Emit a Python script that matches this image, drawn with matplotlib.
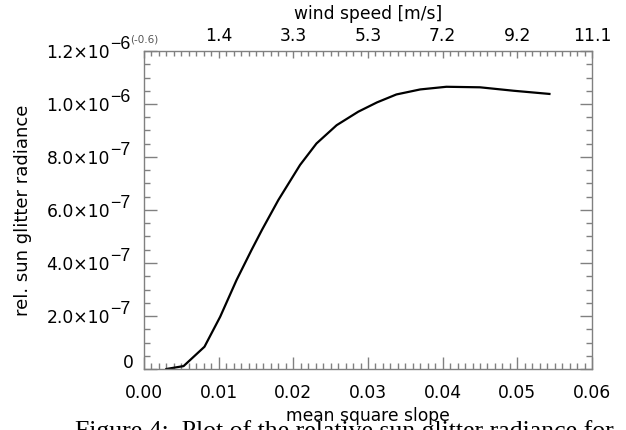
import matplotlib
matplotlib.use("Agg")
import matplotlib.pyplot as plt
from matplotlib.ticker import MultipleLocator, FixedLocator

plt.rcParams['font.family'] = ['DejaVu Sans']

# data
mss = [0.0030, 0.0053, 0.0081, 0.0102, 0.0124, 0.0144, 0.0158, 0.0180, 0.0209,
       0.0231, 0.0258, 0.0287, 0.0312, 0.0338, 0.0370, 0.0405, 0.0450, 0.0495, 0.0543]
radiance = [0.0, 1.1e-8, 8.4e-8, 1.97e-7, 3.36e-7, 4.49e-7, 5.25e-7, 6.38e-7, 7.70e-7,
            8.51e-7, 9.20e-7, 9.71e-7, 1.006e-6, 1.036e-6, 1.055e-6, 1.065e-6, 1.063e-6,
            1.050e-6, 1.038e-6]

x_ticks = [0.00, 0.01, 0.02, 0.03, 0.04, 0.05, 0.06]
x_ticklabels = ['0.00', '0.01', '0.02', '0.03', '0.04', '0.05', '0.06']
wind_labels = ['', '1.4', '3.3', '5.3', '7.2', '9.2', '11.1']
y_ticks = [0, 2e-7, 4e-7, 6e-7, 8e-7, 1.0e-6, 1.2e-6]
y_mantissa = ['', '2.0×10', '4.0×10', '6.0×10', '8.0×10', '1.0×10', '1.2×10']
y_exponent = ['', '−7', '−7', '−7', '−7', '−6', '−6']

fs = 12.3
fig = plt.figure(figsize=(6.26, 4.30), dpi=100)
ax = fig.add_axes([144/626, 61/430, 448/626, 318/430])
ax.plot(mss, radiance, color='black', lw=1.6)
ax.set_xlim(0, 0.06)
ax.set_ylim(0, 1.2e-6)

gray = '#808080'
for s in ax.spines.values():
    s.set_color(gray)
    s.set_linewidth(1.0)

ax.xaxis.set_major_locator(FixedLocator(x_ticks))
ax.set_xticklabels(x_ticklabels)
ax.xaxis.set_minor_locator(MultipleLocator(0.001))
ax.yaxis.set_major_locator(FixedLocator(y_ticks))
ax.set_yticklabels(y_mantissa)
ax.yaxis.set_minor_locator(MultipleLocator(0.5e-7))
ax.tick_params(which='major', direction='in', length=9, color=gray, width=1,
               labelsize=fs, right=True)
ax.tick_params(which='minor', direction='in', length=4, color=gray, width=1, right=True)
ax.tick_params(axis='x', which='both', top=False)
ax.tick_params(axis='x', which='major', pad=10.5)
ax.tick_params(axis='y', which='major', pad=24.5)
# exponents, drawn full-size like the reference
for yv, ex in zip(y_ticks, y_exponent):
    if ex:
        ax.annotate(ex, xy=(0, yv), xycoords=ax.get_yaxis_transform(),
                    xytext=(-10, 5), textcoords='offset points', family=['Liberation Sans'],
                    ha='right', va='center', fontsize=fs + 0.5, annotation_clip=False)
# the zero label sits in the exponent column, as in the reference
ax.annotate('0', xy=(0, y_ticks[0]), xycoords=ax.get_yaxis_transform(),
            xytext=(-7.5, 4.5), textcoords='offset points',
            ha='right', va='center', fontsize=fs, annotation_clip=False)

ax.set_xlabel('mean square slope', fontsize=fs, labelpad=4)
ax.set_ylabel('rel. sun glitter radiance', fontsize=13, labelpad=10)

# top axis: wind speed
tax = ax.twiny()
tax.set_xlim(ax.get_xlim())
tax.xaxis.set_major_locator(FixedLocator(x_ticks))
tax.set_xticklabels(wind_labels)
tax.xaxis.set_minor_locator(MultipleLocator(0.001))
tax.tick_params(which='major', direction='in', length=5, color=gray, width=1,
                labelsize=fs, pad=4)
tax.tick_params(which='minor', direction='in', length=3.5, color=gray, width=1)
for s in tax.spines.values():
    s.set_visible(False)
tax.set_xlabel('wind speed [m/s]', fontsize=fs, labelpad=6)
tax.text(0.0, 1.02, '(-0.6)', transform=tax.transAxes, fontsize=7.5, color='#555555',
         ha='center', va='bottom')

fig.text(75/626, -8/430, 'Figure 4:  Plot of the relative sun glitter radiance for',
         family=['Liberation Serif'], fontsize=18.5, ha='left', va='baseline')

fig.savefig('out.png', dpi=100)
